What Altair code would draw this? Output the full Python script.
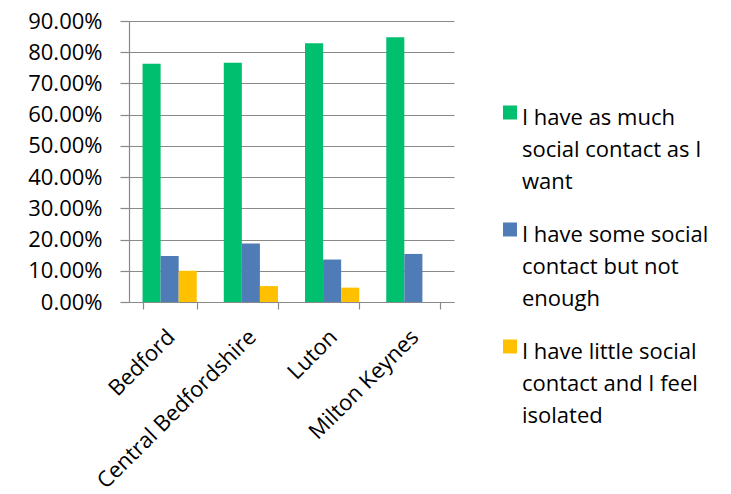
import altair as alt
import pandas as pd

areas = ["Bedford", "Central Bedfordshire", "Luton", "Milton Keynes"]
series = [
    "I have as much social contact as I want",
    "I have some social contact but not enough",
    "I have little social contact and I feel isolated",
]
series_lines = [
    ["I have as much", "social contact as I", "want"],
    ["I have some social", "contact but not", "enough"],
    ["I have little social", "contact and I feel", "isolated"],
]
values = {
    series[0]: [0.763, 0.766, 0.829, 0.848],
    series[1]: [0.147, 0.187, 0.136, 0.154],
    series[2]: [0.100, 0.051, 0.046, 0.0],
}
colors = ["#00BF6F", "#4F7CB6", "#FFC000"]
y_ticks = [i / 100 for i in range(0, 91, 10)]

rows = []
for s_i, s in enumerate(series):
    for a_i, a in enumerate(areas):
        rows.append({"area": a, "series": s, "order": s_i, "value": values[s][a_i]})
df = pd.DataFrame(rows)

label_expr = " : ".join(
    f"datum.label == '{s}' ? {lines!r}" for s, lines in zip(series, series_lines)
) + " : datum.label"

FONT = "Open Sans"
# square symbol, nudged down so it sits beside the first line of the label
SQUARE = "M-1,-0.36h2v2h-2z"

chart = alt.Chart(df).mark_bar().encode(
    x=alt.X("area:N", sort=areas, title=None,
            scale=alt.Scale(paddingInner=0.333, paddingOuter=0.1667),
            axis=alt.Axis(labelAngle=-45, tickBand="extent", tickSize=7,
                          labelFontSize=22, labelPadding=17, labelOffset=-6,
                          labelLimit=400, grid=False)),
    xOffset=alt.XOffset("series:N", sort=series),
    y=alt.Y("value:Q", title=None,
            scale=alt.Scale(domain=[0, 0.9], nice=False),
            axis=alt.Axis(format=".2%", values=y_ticks, tickSize=9,
                          labelFontSize=22, labelPadding=18, grid=True)),
    color=alt.Color("series:N", sort=series,
                    scale=alt.Scale(domain=series, range=colors),
                    legend=alt.Legend(title=None, orient="none", legendX=370, legendY=76,
                                      symbolType=SQUARE, symbolSize=196,
                                      symbolStrokeWidth=0, labelFontSize=22,
                                      labelLimit=400, labelExpr=label_expr,
                                      labelBaseline="top", rowPadding=21,
                                      symbolOffset=0, labelOffset=1)),
).properties(
    width=325, height=281,
    autosize=alt.AutoSizeParams(type="none"),
    padding={"left": 129, "top": 21, "right": 277, "bottom": 192},
).configure(
    style={"guide-label": {"lineHeight": 32}}
).configure_view(stroke=None).configure_axis(
    domainColor="#898989", tickColor="#898989", gridColor="#898989",
    domainWidth=1.2, tickWidth=1.2, gridWidth=1.2,
    labelFont=FONT, labelColor="#000000",
).configure_legend(labelFont=FONT, labelColor="#000000")

chart.save("out.html", embed_options={"renderer": "svg", "actions": False})
